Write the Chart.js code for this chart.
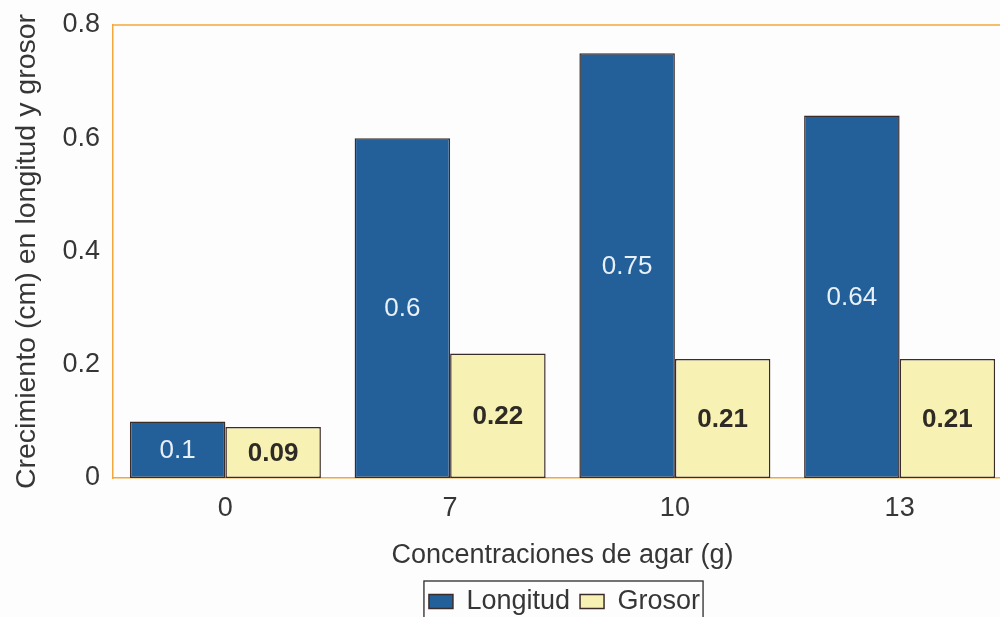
<!DOCTYPE html>
<html>
<head>
<meta charset="utf-8">
<script src="https://cdn.jsdelivr.net/npm/chart.js@4.4.1/dist/chart.umd.min.js"></script>
<style>
  html, body { margin: 0; padding: 0; background: #fdfdfd; overflow: hidden; }
  #wrap { width: 1012px; height: 625px; }
</style>
</head>
<body>
<div id="wrap"><canvas id="c" width="1012" height="625"></canvas></div>
<script>
// Agar concentrations (g) and measured growth (cm)
const categories = ['0', '7', '10', '13'];
const longitud = [0.1, 0.6, 0.75, 0.64];
const grosor = [0.09, 0.22, 0.21, 0.21];
const yTicks = [0, 0.2, 0.4, 0.6, 0.8];

const FONT = "'Liberation Sans', Arial, sans-serif";
const AXIS_ORANGE = '#f4a73a';
const TEXT = '#363636';

// Value labels centred inside each bar
const barLabels = {
  id: 'barLabels',
  afterDatasetsDraw(chart) {
    const ctx = chart.ctx;
    ctx.save();
    ctx.textAlign = 'center';
    ctx.textBaseline = 'middle';
    chart.data.datasets.forEach((ds, di) => {
      const meta = chart.getDatasetMeta(di);
      meta.data.forEach((bar, i) => {
        const v = ds.data[i];
        const yMid = (bar.y + bar.base) / 2;
        if (di === 0) {
          ctx.font = '26px ' + FONT;
          ctx.fillStyle = '#e8f0f8';
        } else {
          ctx.font = 'bold 26px ' + FONT;
          ctx.fillStyle = '#2e2a26';
        }
        ctx.fillText(String(v), bar.x, yMid + 1);
      });
    });
    ctx.restore();
  }
};

// Place the legend under the plot area rather than the whole canvas
const legendUnderPlot = {
  id: 'legendUnderPlot',
  afterLayout(chart) {
    const lg = chart.legend;
    const a = chart.chartArea;
    if (!lg) return;
    const dx = (a.left + a.right) / 2 - (lg.left + lg.right) / 2 + 2;
    lg.left += dx;
    lg.right += dx;
    (lg.legendHitBoxes || []).forEach(b => { b.left += dx; });
  }
};

// Top frame line of the plot area and the box round the legend
const frame = {
  id: 'frame',
  afterDraw(chart) {
    const ctx = chart.ctx;
    const a = chart.chartArea;
    ctx.save();
    ctx.strokeStyle = AXIS_ORANGE;
    ctx.lineWidth = 1.5;
    ctx.beginPath();
    ctx.moveTo(a.left, a.top);
    ctx.lineTo(a.right + 20, a.top);
    ctx.stroke();

    const lg = chart.legend;
    if (lg && lg.legendHitBoxes && lg.legendHitBoxes.length) {
      const boxes = lg.legendHitBoxes;
      const first = boxes[0];
      const last = boxes[boxes.length - 1];
      const x0 = first.left - 5;
      const x1 = last.left + last.width + 3;
      const y0 = first.top - 7;
      const y1 = first.top + first.height + 14;
      ctx.strokeStyle = '#2a2a2a';
      ctx.lineWidth = 1.3;
      ctx.strokeRect(x0, y0, x1 - x0, y1 - y0);
    }
    ctx.restore();
  }
};

new Chart(document.getElementById('c'), {
  type: 'bar',
  data: {
    labels: categories,
    datasets: [
      {
        label: 'Longitud',
        data: longitud,
        backgroundColor: '#23609a',
        borderColor: '#3b2c2c',
        borderWidth: 1.5,
        borderSkipped: false
      },
      {
        label: 'Grosor',
        data: grosor,
        backgroundColor: '#f8f1b4',
        borderColor: '#3b2c2c',
        borderWidth: 1.5,
        borderSkipped: false
      }
    ]
  },
  options: {
    responsive: false,
    animation: false,
    layout: { padding: { top: 25, left: 0, right: 0, bottom: 0 } },
    datasets: {
      bar: { categoryPercentage: 0.85, barPercentage: 1.0 }
    },
    plugins: {
      legend: {
        position: 'bottom',
        labels: {
          font: { family: FONT, size: 27 },
          color: TEXT,
          boxWidth: 24,
          boxHeight: 14,
          padding: 10,
          useBorderRadius: false
        }
      },
      tooltip: { enabled: false },
      title: { display: false }
    },
    scales: {
      x: {
        grid: { display: false, drawTicks: false },
        border: { display: true, color: AXIS_ORANGE, width: 1.5 },
        ticks: {
          font: { family: FONT, size: 27 },
          color: TEXT,
          padding: 14
        },
        title: {
          display: true,
          text: 'Concentraciones de agar (g)',
          font: { family: FONT, size: 27 },
          color: TEXT,
          padding: { top: 10, bottom: 6 }
        },
        afterFit(scale) { scale.height = 100; }
      },
      y: {
        min: 0,
        max: 0.8,
        afterBuildTicks(scale) {
          scale.ticks = yTicks.map(v => ({ value: v }));
        },
        grid: { display: false, drawTicks: false },
        border: { display: true, color: AXIS_ORANGE, width: 1.5 },
        ticks: {
          font: { family: FONT, size: 27 },
          color: TEXT,
          padding: 13,
          callback: v => String(v)
        },
        title: {
          display: true,
          text: 'Crecimiento (cm) en longitud y grosor',
          font: { family: FONT, size: 28.5 },
          color: TEXT,
          padding: { top: 10, bottom: 6 }
        },
        afterFit(scale) {
          scale.width = 113;
          scale.paddingTop = 0;
          scale.paddingBottom = 0;
        }
      }
    }
  },
  plugins: [legendUnderPlot, barLabels, frame]
});
</script>
</body>
</html>
